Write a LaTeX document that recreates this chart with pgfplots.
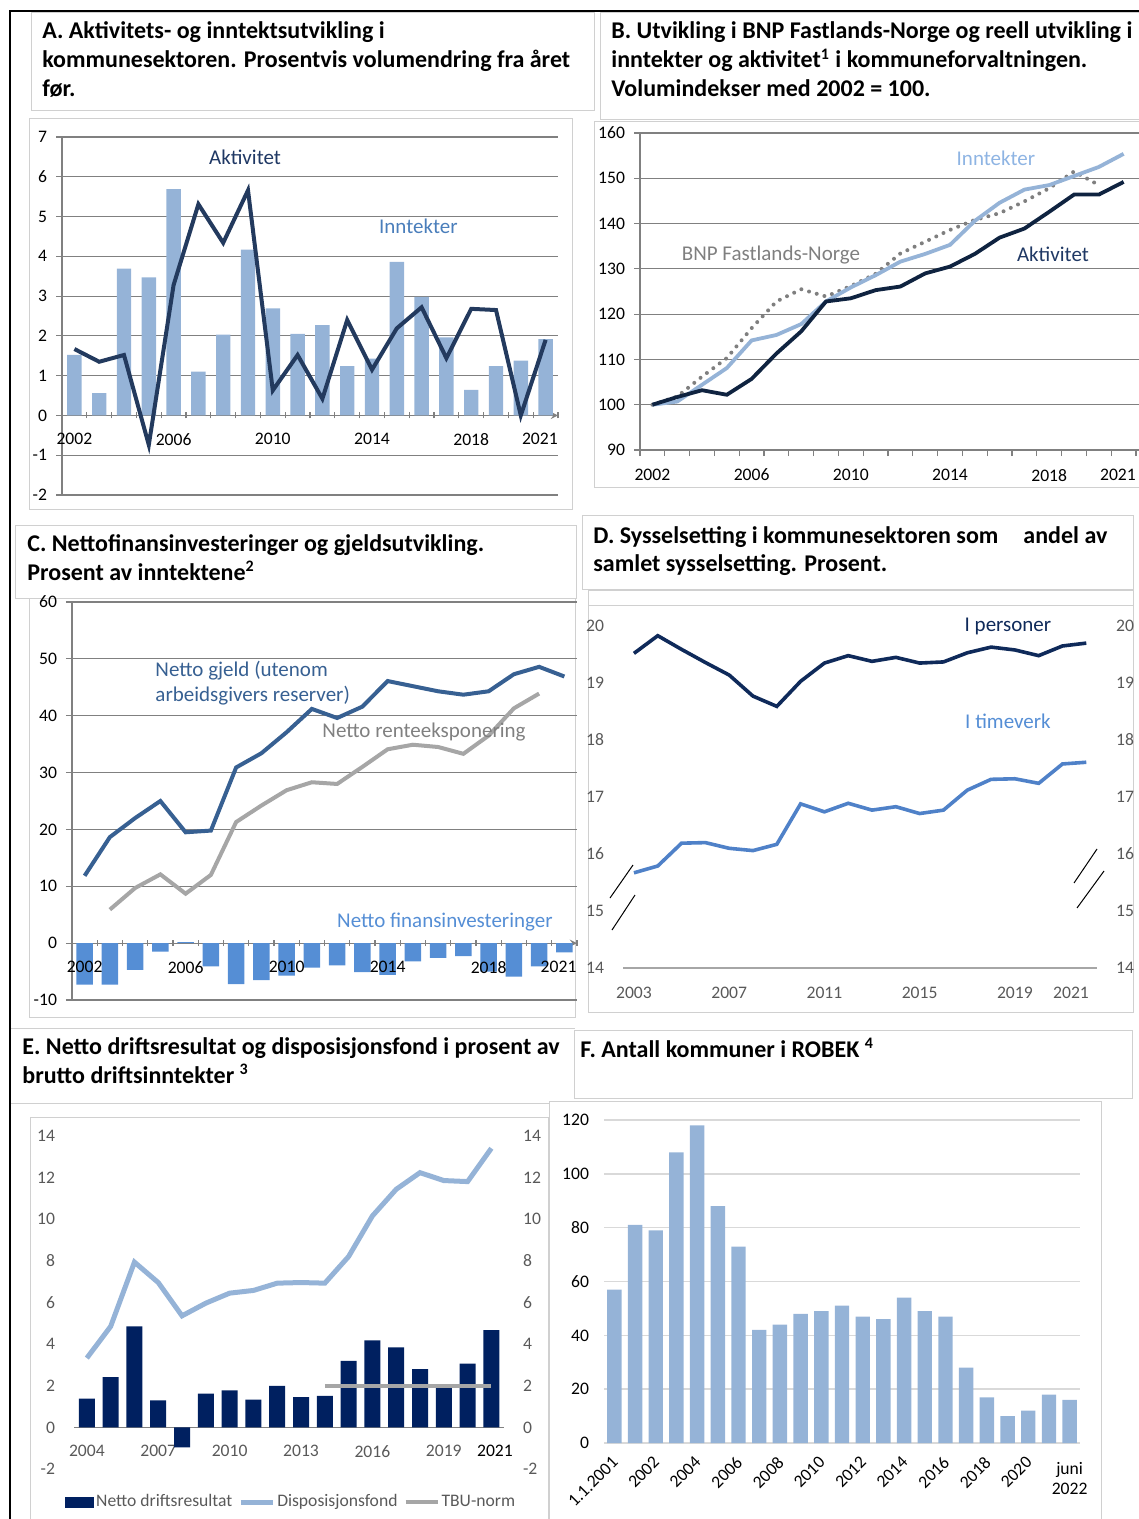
\documentclass[border=0pt]{standalone}
\usepackage{fontspec}
\setmainfont{Carlito}
\usepackage{pgfplots}
\pgfplotsset{compat=1.18}

\definecolor{barlight}{HTML}{95B3D7}
\definecolor{navyA}{HTML}{233A5E}
\definecolor{navytxt}{HTML}{1F3864}
\definecolor{blueTxt}{HTML}{4A7EBB}
\definecolor{navyB}{HTML}{0F2340}
\definecolor{lightTxt}{HTML}{8EB4E3}
\definecolor{bnpgray}{HTML}{7F7F7F}
\definecolor{gjeld}{HTML}{376092}
\definecolor{rente}{HTML}{A6A6A6}
\definecolor{finans}{HTML}{558ED5}
\definecolor{navyD}{HTML}{0F2A5A}
\definecolor{timeverk}{HTML}{4F81C8}
\definecolor{navyE}{HTML}{002060}
\definecolor{gridgray}{HTML}{808080}
\definecolor{lightgrid}{HTML}{D9D9D9}
\definecolor{tickgray}{HTML}{595959}
\definecolor{boxgray}{HTML}{D0D0D0}

\pgfplotsset{
  base/.style={scale only axis, clip=false, enlargelimits=false, anchor=south west,
    ticklabel style={font=\fontsize{8.8}{10}\selectfont},
    /pgf/number format/assume math mode=true,
    hide obscured x ticks=false, hide obscured y ticks=false},
  yeargrid/.style={
    axis y line=left,
    axis line style={draw=gridgray, line width=0.6pt, -},
    ymajorgrids, grid style={draw=gridgray, line width=0.6pt},
    tick align=outside, major tick length=3pt,
    tick style={draw=gridgray, line width=0.6pt},
    xtick={2001.5,2002.5,...,2021.5}, xticklabels={},
    extra x ticks={2002,2006,2010,2014,2018,2020.77},
    extra x tick labels={2002,2006,2010,2014,2018,2021},
    extra x tick style={major tick length=0pt, xticklabel style={yshift=-5.5pt}},
    yticklabel style={xshift=-1pt}},
}
\newcommand{\ttl}{\bfseries\fontsize{12}{14.5}\selectfont}
\newcommand{\ann}{\fontsize{10.5}{12}\selectfont}
\newcommand{\tkf}{\fontsize{8.8}{10}\selectfont}

\begin{document}
\begin{tikzpicture}
\useasboundingbox (0,0) rectangle (569.5pt,-759.5pt);

% panel frames
\draw[boxgray, line width=0.5pt] (15.5pt,-6.5pt) rectangle (297pt,-55.5pt);
\draw[boxgray, line width=0.5pt] (14.5pt,-59.5pt) rectangle (286pt,-254.5pt);
\draw[boxgray, line width=0.5pt] (300pt,-6.5pt) rectangle (570pt,-60pt);
\draw[boxgray, line width=0.5pt] (297pt,-61pt) rectangle (570pt,-243.5pt);
\draw[boxgray, line width=0.5pt] (7.5pt,-262.5pt) rectangle (288pt,-299pt);
\draw[boxgray, line width=0.5pt] (14.5pt,-299pt) rectangle (287.5pt,-508.5pt);
\draw[boxgray, line width=0.5pt] (291pt,-257.5pt) rectangle (566.5pt,-294.5pt);
\draw[boxgray, line width=0.5pt] (294pt,-295pt) rectangle (566.5pt,-506pt);
\draw[boxgray, line width=0.5pt] (294pt,-302.5pt) -- (566.5pt,-302.5pt);
\draw[boxgray, line width=0.5pt] (5pt,-514pt) -- (287.5pt,-514pt);
\draw[boxgray, line width=0.5pt] (5pt,-551.5pt) rectangle (274.5pt,-760pt);
\draw[boxgray, line width=0.5pt] (15pt,-558.5pt) rectangle (274pt,-760pt);
\draw[boxgray, line width=0.5pt] (287pt,-515pt) rectangle (566pt,-549pt);
\draw[boxgray, line width=0.5pt] (274.5pt,-550.5pt) rectangle (550.5pt,-760pt);
\draw[black, line width=1pt] (5pt,-760pt) -- (5pt,-5.5pt) -- (570pt,-5.5pt);

% titles
\node[anchor=base west, inner sep=0pt, font=\ttl] at (21pt,-19.5pt) {A. Aktivitets- og inntektsutvikling i};
\node[anchor=base west, inner sep=0pt, font=\ttl] at (21pt,-34pt) {kommunesektoren. Prosentvis volumendring fra året};
\node[anchor=base west, inner sep=0pt, font=\ttl] at (21pt,-48.5pt) {før.};
\node[anchor=base west, inner sep=0pt, font=\ttl] at (305.5pt,-19.5pt) {B. Utvikling i BNP Fastlands-Norge og reell utvikling i};
\node[anchor=base west, inner sep=0pt, font=\ttl] at (305.5pt,-34pt) {inntekter og aktivitet\textsuperscript{1} i kommuneforvaltningen.};
\node[anchor=base west, inner sep=0pt, font=\ttl] at (305.5pt,-48.5pt) {Volumindekser med 2002 = 100.};
\node[anchor=base west, inner sep=0pt, font=\ttl] at (13.5pt,-275.5pt) {C. Nettofinansinvesteringer og gjeldsutvikling.};
\node[anchor=base west, inner sep=0pt, font=\ttl] at (13.5pt,-290pt) {Prosent av inntektene\textsuperscript{2}};
\node[anchor=base west, inner sep=0pt, font=\ttl] at (296.5pt,-271.5pt) {D. Sysselsetting i kommunesektoren som\hspace{12.5pt}andel av};
\node[anchor=base west, inner sep=0pt, font=\ttl] at (296.5pt,-285.5pt) {samlet sysselsetting. Prosent.};
\node[anchor=base west, inner sep=0pt, font=\ttl] at (11pt,-527pt) {E. Netto driftsresultat og disposisjonsfond i prosent av};
\node[anchor=base west, inner sep=0pt, font=\ttl] at (11pt,-541.5pt) {brutto driftsinntekter \textsuperscript{3}};
\node[anchor=base west, inner sep=0pt, font=\ttl] at (290pt,-528.5pt) {F. Antall kommuner i ROBEK \textsuperscript{4}};

% ---------- A ----------
\begin{axis}[base, yeargrid, at={(31pt,-247.5pt)}, width=248pt, height=179pt,
  xmin=2001.5, xmax=2021.5, ymin=-2, ymax=7,
  axis x line=middle,
  ytick={-2,...,7}, yticklabels={-2,-1,0,1,2,3,4,5,6,7}]
\addplot[ybar, bar width=7.2pt, fill=barlight, draw=none] coordinates {
(2002,1.52)(2003,0.56)(2004,3.69)(2005,3.47)(2006,5.69)(2007,1.10)(2008,2.03)
(2009,4.17)(2010,2.69)(2011,2.05)(2012,2.27)(2013,1.24)(2014,1.43)(2015,3.86)
(2016,2.98)(2017,1.96)(2018,0.64)(2019,1.24)(2020,1.38)(2021,1.92)};
\addplot[navyA, line width=2pt] coordinates {
(2002,1.67)(2003,1.35)(2004,1.52)(2005,-0.74)(2006,3.28)(2007,5.31)(2008,4.34)
(2009,5.66)(2010,0.63)(2011,1.52)(2012,0.42)(2013,2.40)(2014,1.15)(2015,2.19)
(2016,2.72)(2017,1.44)(2018,2.68)(2019,2.65)(2020,0.0)(2021,1.90)};
\node[font=\ann, text=navytxt] at (axis cs:2008.88,6.48) {Aktivitet};
\node[font=\ann, text=blueTxt] at (axis cs:2015.87,4.75) {Inntekter};
\end{axis}

% ---------- B ----------
\begin{axis}[base, yeargrid, at={(320pt,-225pt)}, width=249.5pt, height=158.5pt,
  xmin=2001.5, xmax=2021.62, ymin=90, ymax=160,
  axis x line*=bottom,
  extra x tick style={major tick length=0pt, xticklabel style={yshift=-0.5pt}},
  ytick={90,100,...,160}]
\addplot[bnpgray, line width=2pt, line cap=round, dash pattern=on 0pt off 4pt] coordinates {
(2002,100)(2003,101.8)(2004,106.2)(2005,110.3)(2006,116.9)(2007,122.8)(2008,125.5)
(2009,123.9)(2010,126.2)(2011,128.9)(2012,133.4)(2013,136.0)(2014,138.6)(2015,140.8)
(2016,142.3)(2017,144.9)(2018,147.8)(2019,151.5)(2020,148.5)};
\addplot[barlight, line width=1.9pt] coordinates {
(2002,100)(2003,100.7)(2004,104.4)(2005,108.1)(2006,114.2)(2007,115.4)(2008,117.8)
(2009,122.8)(2010,125.9)(2011,128.6)(2012,131.6)(2013,133.3)(2014,135.3)(2015,140.6)
(2016,144.6)(2017,147.5)(2018,148.5)(2019,150.5)(2020,152.5)(2021,155.4)};
\addplot[navyB, line width=1.9pt] coordinates {
(2002,100)(2003,101.7)(2004,103.2)(2005,102.2)(2006,105.7)(2007,111.3)(2008,116.2)
(2009,122.8)(2010,123.5)(2011,125.3)(2012,126.1)(2013,129.0)(2014,130.5)(2015,133.3)
(2016,136.9)(2017,138.9)(2018,142.6)(2019,146.4)(2020,146.4)(2021,149.2)};
\node[font=\ann, text=lightTxt] at (axis cs:2015.85,154.5) {Inntekter};
\node[font=\ann, text=bnpgray] at (axis cs:2006.78,133.1) {BNP Fastlands-Norge};
\node[font=\ann, text=navytxt] at (axis cs:2018.15,133.3) {Aktivitet};
\end{axis}

% ---------- C ----------
\begin{axis}[base, yeargrid, at={(36pt,-500pt)}, width=252.5pt, height=199pt,
  xmin=2001.5, xmax=2021.5, ymin=-10, ymax=60,
  axis x line=middle,
  extra x tick labels={},
  ytick={-10,0,...,60}, yticklabels={-10,0,10,20,30,40,50,60}]
\addplot[ybar, bar width=8.3pt, fill=finans, draw=none] coordinates {
(2002,-7.3)(2003,-7.3)(2004,-4.7)(2005,-1.5)(2006,0.2)(2007,-4.1)(2008,-7.2)
(2009,-6.5)(2010,-5.7)(2011,-4.3)(2012,-3.9)(2013,-5.1)(2014,-5.6)(2015,-3.2)
(2016,-2.6)(2017,-2.3)(2018,-5.0)(2019,-5.9)(2020,-4.1)(2021,-1.6)};
\addplot[rente, line width=2pt] coordinates {
(2003,5.9)(2004,9.7)(2005,12.1)(2006,8.7)(2007,12.0)(2008,21.3)(2009,24.2)
(2010,26.9)(2011,28.3)(2012,28.0)(2013,31.0)(2014,34.1)(2015,34.9)(2016,34.5)
(2017,33.3)(2018,36.5)(2019,41.3)(2020,43.9)};
\addplot[gjeld, line width=2pt] coordinates {
(2002,11.85)(2003,18.65)(2004,22.0)(2005,25.0)(2006,19.5)(2007,19.8)(2008,30.9)
(2009,33.4)(2010,37.1)(2011,41.2)(2012,39.6)(2013,41.6)(2014,46.1)(2015,45.2)
(2016,44.3)(2017,43.7)(2018,44.3)(2019,47.3)(2020,48.6)(2021,46.9)};
\node[font=\tkf, anchor=north, yshift=-5.5pt] at (axis cs:2002,0) {2002};
\node[font=\tkf, anchor=north, yshift=-5.5pt] at (axis cs:2006,0) {2006};
\node[font=\tkf, anchor=north, yshift=-5.5pt] at (axis cs:2010,0) {2010};
\node[font=\tkf, anchor=north, yshift=-5.5pt] at (axis cs:2014,0) {2014};
\node[font=\tkf, anchor=north, yshift=-5.5pt] at (axis cs:2018,0) {2018};
\node[font=\tkf, anchor=north, yshift=-5.5pt] at (axis cs:2020.77,0) {2021};
\node[font=\ann, text=gjeld, anchor=west, inner sep=0pt] at (axis cs:2004.79,48.0) {Netto gjeld (utenom};
\node[font=\ann, text=gjeld, anchor=west, inner sep=0pt] at (axis cs:2004.79,43.6) {arbeidsgivers reserver)};
\node[font=\ann, text=gray] at (axis cs:2015.44,37.1) {Netto renteeksponering};
\node[font=\ann, text=finans] at (axis cs:2016.27,3.7) {Netto finansinvesteringer};
\end{axis}

% ---------- D ----------
\begin{axis}[base, at={(311.5pt,-484pt)}, width=237pt, height=171pt,
  xmin=2002.54, xmax=2022.45, ymin=14, ymax=20,
  axis x line*=bottom, axis y line*=left,
  x axis line style={draw=rente, line width=0.8pt, -},
  y axis line style={draw=none},
  major tick length=0pt,
  ytick={14,...,20},
  xtick={2003,2007,2011,2015,2019,2021.36}, xticklabels={2003,2007,2011,2015,2019,2021},
  ticklabel style={text=tickgray},
  yticklabel style={xshift=-6pt}, xticklabel style={yshift=-6pt}]
\addplot[navyD, line width=1.8pt] coordinates {
(2003,19.52)(2004,19.83)(2005,19.59)(2006,19.36)(2007,19.14)(2008,18.77)(2009,18.59)
(2010,19.03)(2011,19.35)(2012,19.48)(2013,19.38)(2014,19.45)(2015,19.35)(2016,19.37)
(2017,19.53)(2018,19.63)(2019,19.58)(2020,19.48)(2021,19.65)(2022,19.70)};
\addplot[timeverk, line width=1.8pt] coordinates {
(2003,15.67)(2004,15.79)(2005,16.19)(2006,16.20)(2007,16.10)(2008,16.06)(2009,16.17)
(2010,16.88)(2011,16.74)(2012,16.89)(2013,16.77)(2014,16.83)(2015,16.71)(2016,16.77)
(2017,17.12)(2018,17.31)(2019,17.32)(2020,17.24)(2021,17.58)(2022,17.61)};
\node[font=\ann, text=navyD] at (axis cs:2018.71,19.99) {I personer};
\node[font=\ann, text=finans] at (axis cs:2018.71,18.33) {I timeverk};
\end{axis}
\begin{axis}[base, at={(311.5pt,-484pt)}, width=237pt, height=171pt,
  xmin=2002.54, xmax=2022.45, ymin=14, ymax=20,
  axis y line*=right, axis x line=none, y axis line style={draw=none},
  major tick length=0pt, ytick={14,...,20},
  ticklabel style={text=tickgray}, yticklabel style={xshift=6pt}]
\end{axis}
\draw[black, line width=0.5pt] (305pt,-449pt) -- (316.5pt,-432.5pt);
\draw[black, line width=0.5pt] (306pt,-465pt) -- (317.5pt,-447.5pt);
\draw[black, line width=0.5pt] (537pt,-441.5pt) -- (548.5pt,-424.5pt);
\draw[black, line width=0.5pt] (538.5pt,-454pt) -- (552pt,-435.5pt);

% ---------- E ----------
\begin{axis}[base, at={(37pt,-734.5pt)}, width=215pt, height=166.5pt,
  xmin=2003.46, xmax=2021.53, ymin=-2, ymax=14,
  axis x line=middle, axis y line*=left,
  x axis line style={draw=gridgray, line width=0.8pt, -},
  y axis line style={draw=none},
  major tick length=0pt,
  ytick={-2,0,...,14}, yticklabels={-2,0,2,4,6,8,10,12,14},
  xtick={2004,2007,2010,2013,2016,2019}, xticklabels={2004,2007,2010,2013,2016,2019},
  extra x ticks={2021.15}, extra x tick labels={2021},
  extra x tick style={xticklabel style={text=black}},
  ticklabel style={text=tickgray},
  yticklabel style={xshift=-6pt}, xticklabel style={yshift=-5.5pt},
  legend style={at={(0.505,-0.1)}, anchor=center, draw=none, fill=none,
    font=\tkf, text=tickgray, inner sep=0pt,
    nodes={inner sep=1pt}, /tikz/every even column/.append style={column sep=2pt}},
  legend columns=3]
\addplot[ybar, bar width=8pt, fill=navyE, draw=none,
  legend image code/.code={\fill[navyE] (0pt,-2.6pt) rectangle (14.5pt,2.6pt);}] coordinates {
(2004,1.38)(2005,2.42)(2006,4.85)(2007,1.30)(2008,-0.96)(2009,1.62)(2010,1.78)
(2011,1.33)(2012,2.0)(2013,1.46)(2014,1.52)(2015,3.2)(2016,4.18)(2017,3.84)
(2018,2.8)(2019,1.95)(2020,3.06)(2021,4.67)};
\addlegendentry{Netto driftsresultat}
\addplot[barlight, line width=2.5pt,
  legend image code/.code={\draw[barlight, line width=2.5pt] (0pt,0pt) -- (16pt,0pt);}] coordinates {
(2004,3.33)(2005,4.85)(2006,7.94)(2007,6.96)(2008,5.36)(2009,5.97)(2010,6.45)
(2011,6.58)(2012,6.93)(2013,6.96)(2014,6.93)(2015,8.21)(2016,10.16)(2017,11.44)
(2018,12.24)(2019,11.86)(2020,11.81)(2021,13.41)};
\addlegendentry{Disposisjonsfond}
\addplot[rente, line width=2pt,
  legend image code/.code={\draw[rente, line width=2pt] (0pt,0pt) -- (16pt,0pt);}] coordinates {
(2014,2)(2021,2)};
\addlegendentry{TBU-norm}
\end{axis}
\begin{axis}[base, at={(37pt,-734.5pt)}, width=215pt, height=166.5pt,
  xmin=2003.46, xmax=2021.53, ymin=-2, ymax=14,
  axis y line*=right, axis x line=none, y axis line style={draw=none},
  major tick length=0pt,
  ytick={-2,0,...,14}, yticklabels={-2,0,2,4,6,8,10,12,14},
  ticklabel style={text=tickgray}, yticklabel style={xshift=6pt}]
\end{axis}

% ---------- F ----------
\begin{axis}[base, at={(302pt,-721.5pt)}, width=238pt, height=161.5pt,
  xmin=-0.5, xmax=22.5, ymin=0, ymax=120,
  axis line style={draw=none}, major tick length=0pt,
  ymajorgrids, grid style={draw=lightgrid, line width=0.7pt},
  ytick={0,20,...,120}, yticklabel style={xshift=-4pt},
  xtick={0,2,...,20},
  xticklabels={1.1.2001,2002,2004,2006,2008,2010,2012,2014,2016,2018,2020},
  xticklabel style={rotate=45, anchor=north east, inner sep=1pt, xshift=-4.5pt, yshift=-2pt}]
\addplot[ybar, bar width=7.2pt, fill=barlight, draw=none] coordinates {
(0,57)(1,81)(2,79)(3,108)(4,118)(5,88)(6,73)(7,42)(8,44)(9,48)(10,49)(11,51)
(12,47)(13,46)(14,54)(15,49)(16,47)(17,28)(18,17)(19,10)(20,12)(21,18)(22,16)};
\node[anchor=north, align=center, font=\tkf, yshift=-6pt] at (axis cs:22,0) {juni\\2022};
\end{axis}
\end{tikzpicture}
\end{document}
